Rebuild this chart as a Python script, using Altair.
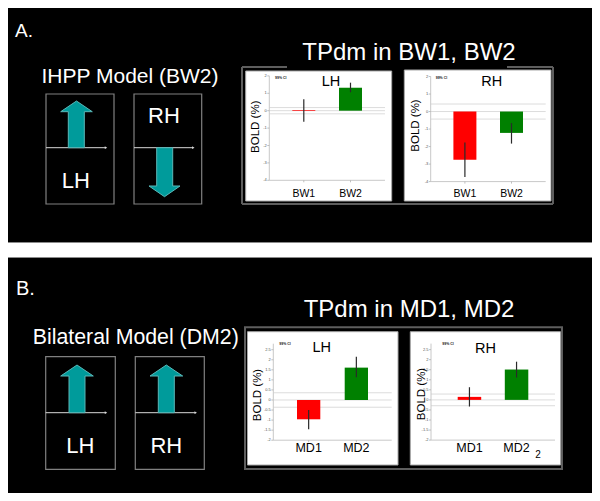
import altair as alt
import pandas as pd

# ---------------- data ----------------
cats_A = ["BW1", "BW2"]
cats_B = ["MD1", "MD2"]

A_LH_mean = [0.04, 1.32]
A_LH_lo = [-0.63, 1.06]
A_LH_hi = [0.66, 1.61]

A_RH_mean = [-2.75, -1.22]
A_RH_lo = [-3.74, -1.83]
A_RH_hi = [-1.77, -0.66]

B_LH_mean = [-0.96, 1.61]
B_LH_lo = [-1.46, 1.13]
B_LH_hi = [-0.50, 2.15]

B_RH_mean = [0.15, 1.51]
B_RH_lo = [-0.33, 1.11]
B_RH_hi = [0.63, 1.90]

A_ticks = [2, 1, 0, -1, -2, -3, -4]
A_tick_labels = ["2", "1", "0", "-1", "-2", "-3", "-4"]
B_ticks = [2.5, 2, 1.5, 1, 0.5, 0, -0.5, -1, -1.5, -2]
B_tick_labels = ["2.5", "2", "1.5", "1", "0.5", "0", "-0.5", "-1", "-1.5", "-2"]

A_LH_thr = 0.18
A_RH_thr = 0.43
B_LH_thr = 0.36
B_RH_thr = 0.29

# ---------------- layout ----------------
OFF = 8          # page margin
W, H = 584, 485
FONT = "Liberation Sans, Arial, sans-serif"
RED, GREEN = "#ff0000", "#008000"
TEAL, TEAL_EDGE = "#009b9b", "#5ab8b8"
ONE = pd.DataFrame({"a": [0]})


def P(v):
    return v - OFF


def txt(s, x, y, size, color="white", align="center", baseline="alphabetic",
        angle=0, weight="normal"):
    return alt.Chart(ONE).mark_text(
        text=s, align=align, baseline=baseline, fontSize=size, color=color,
        font=FONT, angle=angle, fontWeight=weight
    ).encode(x=alt.value(P(x)), y=alt.value(P(y)))


def rule(x1, y1, x2, y2, color, w=1.0):
    return alt.Chart(ONE).mark_rule(color=color, strokeWidth=w).encode(
        x=alt.value(P(x1)), y=alt.value(P(y1)),
        x2=alt.value(P(x2)), y2=alt.value(P(y2)))


def rect(x1, y1, x2, y2, fill, stroke="", sw=0.0):
    kw = dict(fill=fill)
    if stroke:
        kw.update(stroke=stroke, strokeWidth=sw)
    return alt.Chart(ONE).mark_rect(**kw).encode(
        x=alt.value(P(x1)), y=alt.value(P(y1)),
        x2=alt.value(P(x2)), y2=alt.value(P(y2)))


def arrow(head_l, head_r, shaft_l, shaft_r, tip_y, headbase_y, base_y):
    cx = (head_l + head_r) / 2
    cy = (tip_y + base_y) / 2
    half = max(abs(base_y - tip_y), head_r - head_l) / 2
    pts = [(cx, tip_y), (head_r, headbase_y), (shaft_r, headbase_y),
           (shaft_r, base_y), (shaft_l, base_y), (shaft_l, headbase_y),
           (head_l, headbase_y)]
    path = "M" + " L".join(
        f"{(px - cx) / half:.4f},{(py - cy) / half:.4f}" for px, py in pts) + " Z"
    return alt.Chart(ONE).mark_point(
        shape=path, size=(2 * half) ** 2, filled=True, fill=TEAL,
        stroke=TEAL_EDGE, strokeWidth=1, opacity=1
    ).encode(x=alt.value(P(cx)), y=alt.value(P(cy)))


def axis_arrow(x1, x2, y):
    line = rule(x1, y, x2, y, "#d9d9d9", 1)
    tip = alt.Chart(ONE).mark_point(
        shape="triangle-right", size=8, filled=True, color="#d9d9d9", opacity=1
    ).encode(x=alt.value(P(x2)), y=alt.value(P(y)))
    return [line, tip]


def panel(cats, mean, lo, hi, thr, ticks, tick_labels, ydom,
          ax_x0, ax_x1, ybot, ytop, c0, c1, bw, cat_y, cat_size):
    df = pd.DataFrame({"cond": cats, "mean": mean, "lo": lo, "hi": hi})
    step = c1 - c0
    pin = 1 - bw / step
    pout = ((ax_x1 - ax_x0) / step - 2 + pin) / 2
    xs = alt.Scale(domain=cats, range=[P(ax_x0), P(ax_x1)],
                   paddingInner=pin, paddingOuter=pout)
    ys = alt.Scale(domain=ydom, range=[P(ybot), P(ytop)], nice=False, zero=False)
    xe = alt.X("cond:N", scale=xs, axis=None)

    thr_df = pd.DataFrame({"t": [thr, 0, -thr]})
    thr_rules = alt.Chart(thr_df).mark_rule(color="#dcdcdc", strokeWidth=1).encode(
        y=alt.Y("t:Q", scale=ys, axis=None),
        x=alt.value(P(ax_x0)), x2=alt.value(P(ax_x1)))

    ax_df = pd.DataFrame({"a": [ydom[0]], "b": [ydom[1]]})
    yaxis = alt.Chart(ax_df).mark_rule(color="#c8c8c8", strokeWidth=1).encode(
        y=alt.Y("a:Q", scale=ys, axis=None), y2="b:Q", x=alt.value(P(ax_x0)))
    xaxis = alt.Chart(ax_df).mark_rule(color="#c8c8c8", strokeWidth=1).encode(
        y=alt.Y("a:Q", scale=ys, axis=None),
        x=alt.value(P(ax_x0)), x2=alt.value(P(ax_x1)))

    tk = pd.DataFrame({"t": ticks, "lab": tick_labels})
    ytick_marks = alt.Chart(tk).mark_rule(color="#b0b0b0", strokeWidth=0.8).encode(
        y=alt.Y("t:Q", scale=ys, axis=None),
        x=alt.value(P(ax_x0) - 2), x2=alt.value(P(ax_x0)))
    ytick_labels = alt.Chart(tk).mark_text(
        align="right", baseline="middle", fontSize=4, color="#555555", font=FONT
    ).encode(y=alt.Y("t:Q", scale=ys, axis=None),
             x=alt.value(P(ax_x0) - 2.5), text="lab:N")

    bars = alt.Chart(df).mark_bar().encode(
        x=xe,
        y=alt.Y("mean:Q", scale=ys, axis=None),
        y2=alt.datum(0),
        color=alt.Color("cond:N", scale=alt.Scale(domain=cats, range=[RED, GREEN]),
                        legend=None))
    err = alt.Chart(df).mark_rule(color="#2a2a2a", strokeWidth=1.2).encode(
        x=xe, y=alt.Y("lo:Q", scale=ys, axis=None), y2="hi:Q")
    xtick_marks = alt.Chart(df).mark_rule(color="#b0b0b0", strokeWidth=0.8).encode(
        x=xe, y=alt.value(P(ybot)), y2=alt.value(P(ybot) + 2))
    cat_labels = alt.Chart(df).mark_text(
        baseline="alphabetic", fontSize=cat_size, color="black", font=FONT
    ).encode(x=xe, y=alt.value(P(cat_y)), text="cond:N")

    return alt.layer(thr_rules, yaxis, xaxis, ytick_marks, ytick_labels,
                     bars, err, xtick_marks, cat_labels)


layers = []

# white separating band
layers.append(rect(0, 242.5, 600, 257.5, "white", "#8a8a8a", 1))

# ---- Row A decorations ----
layers.append(txt("A.", 15, 37.3, 19, align="left"))
layers.append(txt("IHPP Model (BW2)", 130, 83.3, 21))
layers.append(rect(46, 94, 114, 204, "black", "#808080", 1.2))
layers.append(rect(134, 94, 201.7, 204, "black", "#808080", 1.2))
layers += axis_arrow(46, 106, 147.7)
layers += axis_arrow(134, 193.3, 147.7)
layers.append(arrow(60.7, 92.3, 68.3, 84.3, 101, 111.7, 147.7))
layers.append(arrow(149, 180, 156.7, 172.7, 196.7, 186, 147.7))
layers.append(txt("LH", 75.8, 188.3, 22))
layers.append(txt("RH", 164, 123.3, 22))

# frame around the A panels (top line interrupted by the title box)
FA = "#5e5e5e"
layers.append(rule(242, 67, 242, 204, FA, 2))
layers.append(rule(553, 67, 553, 204, FA, 2))
layers.append(rule(242, 204, 553, 204, FA, 2))
layers.append(rule(242, 67, 287, 67, FA, 2))
layers.append(rule(507, 67, 553, 67, FA, 2))
layers.append(txt("TPdm in BW1, BW2", 409, 59.5, 24))
layers.append(rect(245.7, 71, 391.7, 201, "white", "#a8a8a8", 1))
layers.append(rect(404.3, 70, 551, 201, "white", "#a8a8a8", 1))

# ---- Row B decorations ----
layers.append(txt("B.", 16, 295, 20, align="left"))
layers.append(txt("Bilateral Model (DM2)", 135.8, 344, 21.3))
layers.append(rect(45.7, 356.7, 115.3, 469.3, "black", "#808080", 1.2))
layers.append(rect(135.3, 356.7, 204.3, 469.3, "black", "#808080", 1.2))
layers += axis_arrow(45.7, 106, 412.7)
layers += axis_arrow(135.3, 195.7, 412.7)
layers.append(arrow(60.7, 93.3, 69, 85, 365, 376, 412.7))
layers.append(arrow(150, 182.7, 158.3, 174.3, 365, 376, 412.7))
layers.append(txt("LH", 80.3, 453.3, 22))
layers.append(txt("RH", 166.3, 453.3, 22))

layers.append(rect(245, 327.3, 562, 469, "black", FA, 2))
layers.append(txt("TPdm in MD1, MD2", 409, 316.7, 24))
layers.append(rect(247.5, 331.7, 398, 465, "white", "#a8a8a8", 1))
layers.append(rect(410.3, 331.7, 560.5, 465, "white", "#a8a8a8", 1))

# ---- bar panels ----
panels = [
    panel(cats_A, A_LH_mean, A_LH_lo, A_LH_hi, A_LH_thr, A_ticks, A_tick_labels,
          [-4, 2], 269.3, 385, 180.3, 75.9, 303.5, 350.2, 23, 196.7, 10.5),
    panel(cats_A, A_RH_mean, A_RH_lo, A_RH_hi, A_RH_thr, A_ticks, A_tick_labels,
          [-4, 2], 430.7, 545.7, 181.6, 76.5, 464.2, 510.8, 23, 196.7, 10.5),
    panel(cats_B, B_LH_mean, B_LH_lo, B_LH_hi, B_LH_thr, B_ticks, B_tick_labels,
          [-2, 2.8], 273.3, 391.7, 440.2, 343.7, 308.3, 356, 23.3, 452.3, 12.5),
    panel(cats_B, B_RH_mean, B_RH_lo, B_RH_hi, B_RH_thr, B_ticks, B_tick_labels,
          [-2, 2.8], 431, 555, 440.1, 343.6, 471.7, 518.8, 23.5, 452.3, 12.5),
]

# ---- panel texts ----
fg = []
fg.append(txt("LH", 331, 86, 14.5, color="black"))
fg.append(txt("RH", 491.8, 86, 14.5, color="black"))
fg.append(txt("LH", 321.7, 352.3, 14.5, color="black"))
fg.append(txt("RH", 485.5, 353.3, 14.5, color="black"))
fg.append(txt("BOLD (%)", 255.8, 126.7, 11.5, color="black", baseline="middle", angle=270))
fg.append(txt("BOLD (%)", 415.5, 125.5, 11.5, color="black", baseline="middle", angle=270))
fg.append(txt("BOLD (%)", 258.3, 395, 11.5, color="black", baseline="middle", angle=270))
fg.append(txt("BOLD (%)", 422, 394, 11.5, color="black", baseline="middle", angle=270))
fg.append(txt("99% CI", 275, 77.5, 3.5, color="#222222", align="left", baseline="middle", weight="bold"))
fg.append(txt("99% CI", 435.7, 78.3, 3.5, color="#222222", align="left", baseline="middle", weight="bold"))
fg.append(txt("99% CI", 279.3, 344, 3.5, color="#222222", align="left", baseline="middle", weight="bold"))
fg.append(txt("99% CI", 442.3, 344, 3.5, color="#222222", align="left", baseline="middle", weight="bold"))
fg.append(txt("2", 538, 458, 10, color="black"))

chart = alt.layer(*layers, *panels, *fg).resolve_scale(
    x="independent", y="independent", color="independent"
).properties(
    width=W, height=H, autosize="none", padding=0, background="black"
).configure_view(stroke=None)

chart.save("out.html", embed_options={"renderer": "svg", "actions": False})
